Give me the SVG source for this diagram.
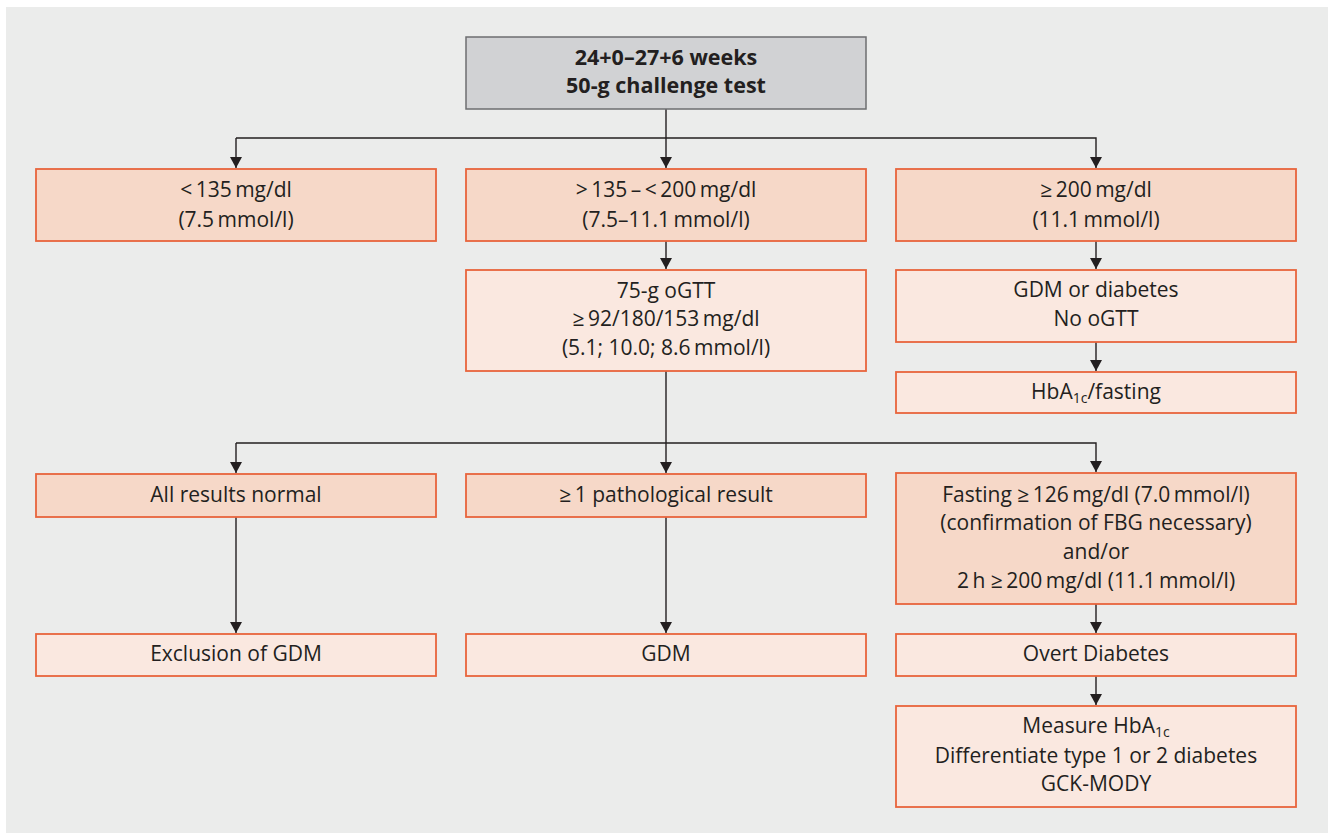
<svg xmlns="http://www.w3.org/2000/svg" width="1328" height="833" viewBox="0 0 1328 833">
<defs>
<style>
text{font-family:"Open Sans","Noto Sans","Liberation Sans",sans-serif;font-size:21px;fill:#231f20;text-anchor:middle}
.b{font-weight:bold;font-size:21.5px}
.top{fill:#d1d2d4;stroke:#6d6e70;stroke-width:1.5}
.dk{fill:#f6d8c8;stroke:#e8643c;stroke-width:1.8}
.lt{fill:#fae8e0;stroke:#e8643c;stroke-width:1.8}
.c{fill:none;stroke:#231f20;stroke-width:1.4}
.sub{font-size:14px}
</style>
<marker id="ah" markerWidth="11" markerHeight="12" refX="11" refY="6" orient="auto" markerUnits="userSpaceOnUse" viewBox="0 0 11 12">
<path d="M0,0 L11,6 L0,12 Z" fill="#231f20"/>
</marker>
</defs>
<rect x="6" y="7" width="1322" height="826" fill="#ebeceb"/>
<g id="connectors">
<path class="c" d="M666,109 V168" marker-end="url(#ah)"/>
<path class="c" d="M236,138 H1096 V168" marker-end="url(#ah)"/>
<path class="c" d="M236,138 V168" marker-end="url(#ah)"/>
<path class="c" d="M666,241 V269" marker-end="url(#ah)"/>
<path class="c" d="M1096,241 V269" marker-end="url(#ah)"/>
<path class="c" d="M1096,342 V371" marker-end="url(#ah)"/>
<path class="c" d="M666,371 V473" marker-end="url(#ah)"/>
<path class="c" d="M236,443 H1096 V472" marker-end="url(#ah)"/>
<path class="c" d="M236,443 V473" marker-end="url(#ah)"/>
<path class="c" d="M236,517 V633" marker-end="url(#ah)"/>
<path class="c" d="M666,517 V633" marker-end="url(#ah)"/>
<path class="c" d="M1096,604 V633" marker-end="url(#ah)"/>
<path class="c" d="M1096,676 V705" marker-end="url(#ah)"/>
</g>
<g id="n-start">
<rect class="top" x="466" y="37" width="400" height="72"/>
<text class="b" x="666" y="65">24+0–27+6 weeks</text>
<text class="b" x="666" y="93">50-g challenge test</text>
</g>
<g id="n-low">
<rect class="dk" x="36" y="169" width="400" height="72"/>
<text x="236" y="197">&lt;&#8201;135&#8201;mg/dl</text>
<text x="236" y="227">(7.5&#8201;mmol/l)</text>
</g>
<g id="n-mid">
<rect class="dk" x="466" y="169" width="400" height="72"/>
<text x="666" y="197">&gt;&#8201;135&#8201;–&#8201;&lt;&#8201;200&#8201;mg/dl</text>
<text x="666" y="227">(7.5–11.1&#8201;mmol/l)</text>
</g>
<g id="n-high">
<rect class="dk" x="896" y="169" width="400" height="72"/>
<text x="1096" y="197">≥&#8201;200&#8201;mg/dl</text>
<text x="1096" y="227">(11.1&#8201;mmol/l)</text>
</g>
<g id="n-ogtt">
<rect class="lt" x="466" y="270" width="400" height="101"/>
<text x="666" y="298">75-g oGTT</text>
<text x="666" y="326">≥&#8201;92/180/153&#8201;mg/dl</text>
<text x="666" y="355">(5.1; 10.0; 8.6&#8201;mmol/l)</text>
</g>
<g id="n-gdm-or-diabetes">
<rect class="lt" x="896" y="270" width="400" height="72"/>
<text x="1096" y="297">GDM or diabetes</text>
<text x="1096" y="326">No oGTT</text>
</g>
<g id="n-hba1c-fasting">
<rect class="lt" x="896" y="372" width="400" height="41"/>
<text x="1096" y="399">HbA<tspan class="sub" dy="4">1c</tspan><tspan dy="-4">/fasting</tspan></text>
</g>
<g id="n-normal">
<rect class="dk" x="36" y="474" width="400" height="43"/>
<text x="236" y="502">All results normal</text>
</g>
<g id="n-patho">
<rect class="dk" x="466" y="474" width="400" height="43"/>
<text x="666" y="502">≥&#8201;1 pathological result</text>
</g>
<g id="n-fasting">
<rect class="dk" x="896" y="473" width="400" height="131"/>
<text x="1096" y="502">Fasting ≥&#8201;126&#8201;mg/dl (7.0&#8201;mmol/l)</text>
<text x="1096" y="530">(confirmation of FBG necessary)</text>
<text x="1096" y="559">and/or</text>
<text x="1096" y="588">2&#8201;h ≥&#8201;200&#8201;mg/dl (11.1&#8201;mmol/l)</text>
</g>
<g id="n-exclusion">
<rect class="lt" x="36" y="634" width="400" height="42"/>
<text x="236" y="661">Exclusion of GDM</text>
</g>
<g id="n-gdm">
<rect class="lt" x="466" y="634" width="400" height="42"/>
<text x="666" y="661">GDM</text>
</g>
<g id="n-overt">
<rect class="lt" x="896" y="634" width="400" height="42"/>
<text x="1096" y="661">Overt Diabetes</text>
</g>
<g id="n-measure">
<rect class="lt" x="896" y="706" width="400" height="101"/>
<text x="1096" y="733">Measure HbA<tspan class="sub" dy="4">1c</tspan></text>
<text x="1096" y="763">Differentiate type 1 or 2 diabetes</text>
<text x="1096" y="791">GCK-MODY</text>
</g>
</svg>
